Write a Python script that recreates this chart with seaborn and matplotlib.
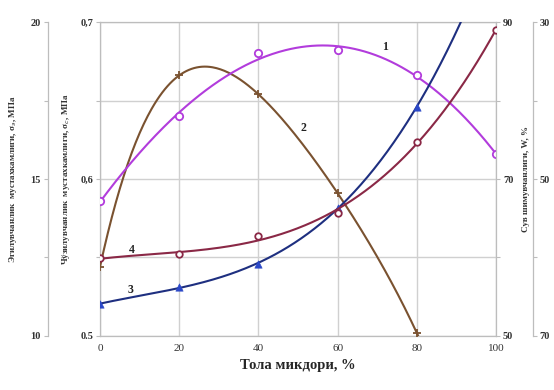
import numpy as np
import matplotlib
matplotlib.use("Agg")
import matplotlib.pyplot as plt
import seaborn as sns

# Fibre content, %
fiber = [0, 20, 40, 60, 80, 100]
fiber_80 = [0, 20, 40, 60, 80]

# 1 - bending strength, MPa
bend_strength = [14.3, 17.0, 19.0, 19.1, 18.3, 15.8]
# 2 - tensile strength, MPa
tensile_strength = [0.544, 0.666, 0.654, 0.591, 0.502]
# 3 - water absorption, %
water_absorption = [54.1, 56.2, 59.2, 66.3, 79.2]
# 4 - fourth property (inverted right-hand scale)
fourth_prop = [60.1, 59.6, 57.3, 54.3, 45.3, 31.0]

x_ticks = [0, 20, 40, 60, 80, 100]
bend_ticks = ['10', '', '15', '', '20']
tensile_ticks = ['0.5', '', '0,6', '', '0,7']
water_ticks = ['50', '', '70', '', '90']
fourth_ticks = ['30', '', '50', '', '70']

sns.set_theme(style="white")
plt.rcParams['font.family'] = ['Liberation Serif', 'DejaVu Serif']

C1 = '#B23CDC'
C2 = '#7A5230'
C3 = '#1E2F80'
C3M = '#2B48C8'
C4 = '#8A2846'
SPINE = '#BDBDBD'
GRID = '#D0D0D0'

fig = plt.figure(figsize=(5.54, 3.9), dpi=100)
ax = fig.add_axes([0.1805, 0.1385, 0.7148, 0.805])


def style_axis(a):
    a.tick_params(axis='y', which='both', direction='out', length=3, width=0.8,
                  color=SPINE, labelsize=7.5, pad=2, labelcolor='#333333')
    for lab in a.get_yticklabels():
        lab.set_fontweight('bold')
    for s in a.spines.values():
        s.set_color(SPINE)
        s.set_linewidth(0.9)


def trend(a, xs, ys, color, deg=3):
    coef = np.polyfit(xs, ys, deg)
    grid = np.linspace(0, 100, 300)
    sns.lineplot(x=grid, y=np.polyval(coef, grid), ax=a, color=color,
                 linewidth=1.5, zorder=3)


# main axis: tensile strength
ax.set_xlim(0, 100)
ax.set_ylim(0.5, 0.7)
ax.set_xticks(x_ticks)
ax.set_xticklabels([str(v) for v in x_ticks])
ax.set_yticks([0.5, 0.55, 0.6, 0.65, 0.7])
ax.set_yticklabels(tensile_ticks)
ax.grid(True, color=GRID, linewidth=1.0)
ax.tick_params(axis='x', length=0, labelsize=8, pad=6, labelcolor='#333333')
ax.set_xlabel('Тола микдори, %', fontsize=10.5, fontweight='bold', labelpad=4)
ax.set_ylabel('Чўзилувчанлик  мустахкамлиги, σ$_c$, МПа', fontsize=6.5,
              fontweight='bold', labelpad=6, color='#333333')
style_axis(ax)
ax.spines['right'].set_visible(False)

# far-left axis: bending strength
ax_e = ax.twinx()
ax_e.spines['left'].set_position(('axes', -0.132))
ax_e.spines['left'].set_visible(True)
ax_e.spines['right'].set_visible(False)
ax_e.spines['top'].set_visible(False)
ax_e.spines['bottom'].set_visible(False)
ax_e.yaxis.set_ticks_position('left')
ax_e.yaxis.set_label_position('left')
ax_e.set_ylim(10, 20)
ax_e.set_yticks([10, 12.5, 15, 17.5, 20])
ax_e.set_yticklabels(bend_ticks)
ax_e.set_ylabel('Эгилувчанлик  мустахкамлиги, σ$_э$, МПа', fontsize=6.5,
                fontweight='bold', labelpad=8, color='#333333')
style_axis(ax_e)
ax_e.grid(False)

# right axis: water absorption
ax_w = ax.twinx()
ax_w.set_ylim(50, 90)
ax_w.set_yticks([50, 60, 70, 80, 90])
ax_w.set_yticklabels(water_ticks)
ax_w.set_ylabel('Сув шимувчанлиги, W, %', fontsize=6.5, fontweight='bold',
                labelpad=6, color='#333333')
style_axis(ax_w)
for s in ('left', 'top', 'bottom'):
    ax_w.spines[s].set_visible(False)
ax_w.grid(False)

# far-right axis: inverted scale
ax_d = ax.twinx()
ax_d.spines['right'].set_position(('axes', 1.093))
for s in ('left', 'top', 'bottom'):
    ax_d.spines[s].set_visible(False)
ax_d.set_ylim(70, 30)
ax_d.set_yticks([30, 40, 50, 60, 70])
ax_d.set_yticklabels(fourth_ticks)
style_axis(ax_d)
ax_d.grid(False)

# curves with trend lines and measured points
trend(ax_e, fiber, bend_strength, C1)
sns.scatterplot(x=fiber, y=bend_strength, ax=ax_e, marker='o', s=28,
                facecolor='white', edgecolor=C1, linewidth=1.3, zorder=4)

trend(ax, fiber_80, tensile_strength, C2, deg=4)
sns.scatterplot(x=fiber_80, y=tensile_strength, ax=ax, marker='+', s=30,
                color=C2, linewidth=1.3, zorder=4)

trend(ax_w, fiber_80, water_absorption, C3)
sns.scatterplot(x=fiber_80, y=water_absorption, ax=ax_w, marker='^', s=28,
                color=C3M, edgecolor=C3M, zorder=4)

trend(ax_d, fiber, fourth_prop, C4)
sns.scatterplot(x=fiber, y=fourth_prop, ax=ax_d, marker='o', s=22,
                facecolor='white', edgecolor=C4, linewidth=1.3, zorder=4)

for a in (ax_e, ax_w, ax_d):
    a.set_xlim(0, 100)

# curve numbers
for txt, (px, py) in {'1': (0.72, 0.92), '2': (0.513, 0.662),
                      '3': (0.078, 0.146), '4': (0.081, 0.274)}.items():
    ax.text(px, py, txt, transform=ax.transAxes, fontsize=8.5,
            fontweight='bold', color='#222222', ha='center', va='center')

fig.savefig('out.png', dpi=100)
